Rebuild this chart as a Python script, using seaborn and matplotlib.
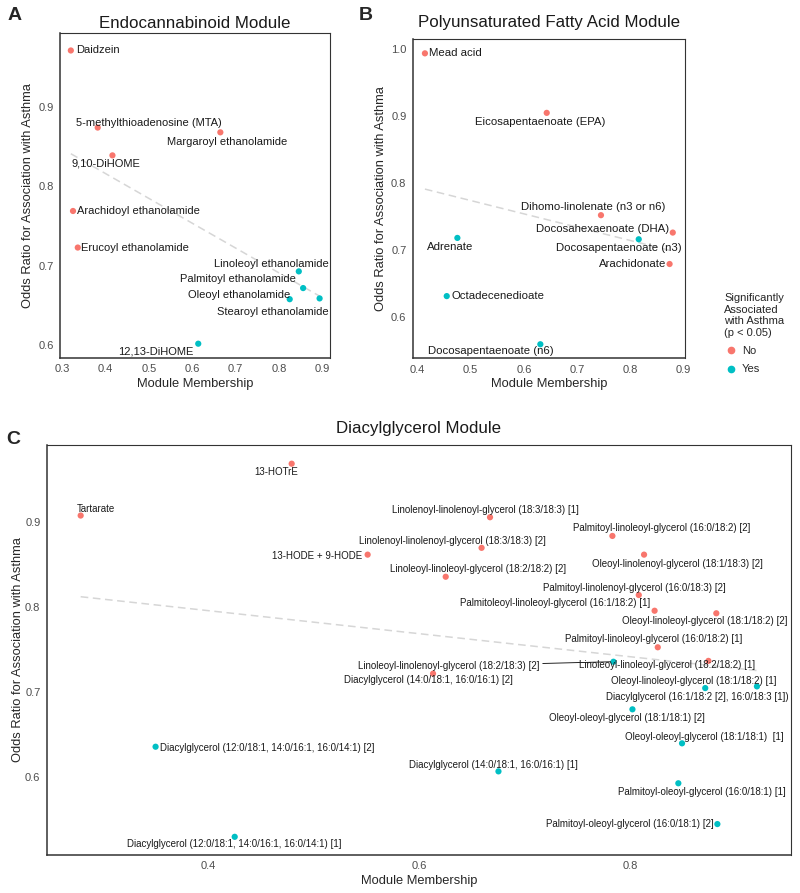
import matplotlib.pyplot as plt
import pandas as pd
import seaborn as sns
from matplotlib.lines import Line2D

NO_COLOR = "#F8766D"
YES_COLOR = "#00BFC4"
PALETTE = {"No": NO_COLOR, "Yes": YES_COLOR}
PX = 0.72  # points per pixel at dpi 100
FIG_W, FIG_H = 800, 893

# Panel A - Endocannabinoid module
endo_names = [
    "Daidzein", "5-methylthioadenosine (MTA)", "Margaroyl ethanolamide", "9,10-DiHOME",
    "Arachidoyl ethanolamide", "Erucoyl ethanolamide", "Linoleoyl ethanolamide",
    "Palmitoyl ethanolamide", "Oleoyl ethanolamide", "Stearoyl ethanolamide", "12,13-DiHOME",
]
endo_membership = [0.320, 0.382, 0.665, 0.416, 0.325, 0.336, 0.846, 0.856, 0.825, 0.894, 0.614]
endo_odds = [0.971, 0.874, 0.868, 0.839, 0.769, 0.723, 0.693, 0.672, 0.658, 0.659, 0.602]
endo_significant = ["No", "No", "No", "No", "No", "No", "Yes", "Yes", "Yes", "Yes", "Yes"]

# Panel B - Polyunsaturated fatty acid module
pufa_names = [
    "Mead acid", "Eicosapentaenoate (EPA)", "Dihomo-linolenate (n3 or n6)", "Docosahexaenoate (DHA)",
    "Docosapentaenoate (n3)", "Arachidonate", "Adrenate", "Octadecenedioate", "Docosapentaenoate (n6)",
]
pufa_membership = [0.414, 0.643, 0.745, 0.880, 0.816, 0.874, 0.475, 0.455, 0.631]
pufa_odds = [0.994, 0.905, 0.752, 0.726, 0.716, 0.679, 0.718, 0.631, 0.559]
pufa_significant = ["No", "No", "No", "No", "Yes", "No", "Yes", "Yes", "Yes"]

# Panel C - Diacylglycerol module
dag_names = [
    "13-HOTrE", "Tartarate", "13-HODE + 9-HODE",
    "Linolenoyl-linolenoyl-glycerol (18:3/18:3) [1]",
    "Linolenoyl-linolenoyl-glycerol (18:3/18:3) [2]",
    "Linoleoyl-linoleoyl-glycerol (18:2/18:2) [2]",
    "Palmitoyl-linoleoyl-glycerol (16:0/18:2) [2]",
    "Oleoyl-linolenoyl-glycerol (18:1/18:3) [2]",
    "Palmitoyl-linolenoyl-glycerol (16:0/18:3) [2]",
    "Palmitoleoyl-linoleoyl-glycerol (16:1/18:2) [1]",
    "Oleoyl-linoleoyl-glycerol (18:1/18:2) [2]",
    "Palmitoyl-linoleoyl-glycerol (16:0/18:2) [1]",
    "Linoleoyl-linolenoyl-glycerol (18:2/18:3) [2]",
    "Diacylglycerol (14:0/18:1, 16:0/16:1) [2]",
    "Linoleoyl-linoleoyl-glycerol (18:2/18:2) [1]",
    "Oleoyl-linoleoyl-glycerol (18:1/18:2) [1]",
    "Diacylglycerol (16:1/18:2 [2], 16:0/18:3 [1])",
    "Oleoyl-oleoyl-glycerol (18:1/18:1) [2]",
    "Oleoyl-oleoyl-glycerol (18:1/18:1)  [1]",
    "Diacylglycerol (14:0/18:1, 16:0/16:1) [1]",
    "Palmitoyl-oleoyl-glycerol (16:0/18:1) [1]",
    "Palmitoyl-oleoyl-glycerol (16:0/18:1) [2]",
    "Diacylglycerol (12:0/18:1, 14:0/16:1, 16:0/14:1) [2]",
    "Diacylglycerol (12:0/18:1, 14:0/16:1, 16:0/14:1) [1]",
]
dag_membership = [
    0.479, 0.279, 0.551, 0.667, 0.659, 0.625, 0.783, 0.813, 0.808, 0.823, 0.8815, 0.826,
    0.784, 0.613, 0.874, 0.920, 0.871, 0.802, 0.849, 0.675, 0.8455, 0.8825, 0.350, 0.425,
]
dag_odds = [
    0.969, 0.908, 0.862, 0.906, 0.870, 0.836, 0.884, 0.862, 0.8145, 0.796, 0.793, 0.753,
    0.736, 0.722, 0.737, 0.707, 0.705, 0.680, 0.640, 0.607, 0.593, 0.545, 0.636, 0.530,
]
dag_significant = ["No"] * 12 + ["Yes", "No", "No"] + ["Yes"] * 9

# label placement: alignment, dx, dy in pixels (dy downwards)
label_offsets = {
    "Daidzein": ("left", 5, 0),
    "5-methylthioadenosine (MTA)": ("center", 51, -4.5),
    "Margaroyl ethanolamide": ("center", 7, 9.5),
    "9,10-DiHOME": ("center", -7, 8.5),
    "Arachidoyl ethanolamide": ("left", 3.5, 0),
    "Erucoyl ethanolamide": ("left", 3.5, 0.4),
    "Linoleoyl ethanolamide": ("right", 30, -7.7),
    "Palmitoyl ethanolamide": ("right", -7.7, -9.4),
    "Oleoyl ethanolamide": ("right", 0.7, -4),
    "Stearoyl ethanolamide": ("right", 9, 13.3),
    "12,13-DiHOME": ("right", -4.7, 7.7),
    "Mead acid": ("left", 3.6, 0),
    "Eicosapentaenoate (EPA)": ("center", -6.4, 9),
    "Dihomo-linolenate (n3 or n6)": ("center", -7.4, -7.7),
    "Docosahexaenoate (DHA)": ("right", -3.4, -4),
    "Docosapentaenoate (n3)": ("right", 43, 8.4),
    "Arachidonate": ("right", -3.3, 0),
    "Adrenate": ("center", -7, 9),
    "Octadecenedioate": ("left", 4.3, 0),
    "Docosapentaenoate (n6)": ("right", 13.3, 7),
    "13-HOTrE": ("center", -15, 8.4),
    "Tartarate": ("center", 15, -7),
    "13-HODE + 9-HODE": ("right", -5.3, 1.3),
    "Linolenoyl-linolenoyl-glycerol (18:3/18:3) [1]": ("right", 89.3, -7.3),
    "Linolenoyl-linolenoyl-glycerol (18:3/18:3) [2]": ("right", 64.3, -7.3),
    "Linoleoyl-linoleoyl-glycerol (18:2/18:2) [2]": ("right", 120.7, -7.4),
    "Palmitoyl-linoleoyl-glycerol (16:0/18:2) [2]": ("right", 138.4, -7.7),
    "Oleoyl-linolenoyl-glycerol (18:1/18:3) [2]": ("right", 119, 9),
    "Palmitoyl-linolenoyl-glycerol (16:0/18:3) [2]": ("right", 87.3, -7.3),
    "Palmitoleoyl-linoleoyl-glycerol (16:1/18:2) [1]": ("right", -4, -8),
    "Oleoyl-linoleoyl-glycerol (18:1/18:2) [2]": ("right", 71, 7.4),
    "Palmitoyl-linoleoyl-glycerol (16:0/18:2) [1]": ("right", 84.4, -8),
    "Linoleoyl-linolenoyl-glycerol (18:2/18:3) [2]": ("right", -74, 4),
    "Diacylglycerol (14:0/18:1, 16:0/16:1) [2]": ("right", 79.4, 6.7),
    "Linoleoyl-linoleoyl-glycerol (18:2/18:2) [1]": ("right", 46.7, 4.3),
    "Oleoyl-linoleoyl-glycerol (18:1/18:2) [1]": ("right", 20, -5),
    "Diacylglycerol (16:1/18:2 [2], 16:0/18:3 [1])": ("right", 83.3, 9),
    "Oleoyl-oleoyl-glycerol (18:1/18:1) [2]": ("right", 72.3, 9),
    "Oleoyl-oleoyl-glycerol (18:1/18:1)  [1]": ("right", 101.6, -6.6),
    "Diacylglycerol (14:0/18:1, 16:0/16:1) [1]": ("right", 79, -6.7),
    "Palmitoyl-oleoyl-glycerol (16:0/18:1) [1]": ("right", 107.4, 8.4),
    "Palmitoyl-oleoyl-glycerol (16:0/18:1) [2]": ("right", -4, 0),
    "Diacylglycerol (12:0/18:1, 14:0/16:1, 16:0/14:1) [2]": ("left", 4.3, 1.6),
    "Diacylglycerol (12:0/18:1, 14:0/16:1, 16:0/14:1) [1]": ("right", 106.7, 7.3),
}
segment_labels = {"Linoleoyl-linolenoyl-glycerol (18:2/18:3) [2]"}


def px_rect(left, top, right, bottom):
    return [left / FIG_W, 1 - bottom / FIG_H, (right - left) / FIG_W, (bottom - top) / FIG_H]


def draw_panel(ax, names, membership, odds, significant, label_size, xlim, ylim, xticks, yticks, ylabelpad=3):
    df = pd.DataFrame({"name": names, "membership": membership, "odds": odds, "significant": significant})
    sns.regplot(
        data=df, x="membership", y="odds", ax=ax, scatter=False, ci=None,
        line_kws={"color": "#D6D6D6", "linestyle": (0, (5, 3)), "linewidth": 1.1, "zorder": 1},
    )
    sns.scatterplot(
        data=df, x="membership", y="odds", hue="significant", palette=PALETTE,
        s=20, linewidth=0, legend=False, ax=ax, zorder=3,
    )
    for _, row in df.iterrows():
        ha, dx, dy = label_offsets[row["name"]]
        arrow = None
        if row["name"] in segment_labels:
            arrow = {"arrowstyle": "-", "color": "black", "linewidth": 0.6, "shrinkA": 0, "shrinkB": 2}
        ax.annotate(
            row["name"], (row["membership"], row["odds"]), xytext=(dx * PX, -dy * PX),
            textcoords="offset points", ha=ha, va="center", fontsize=label_size,
            color="#1A1A1A", arrowprops=arrow, zorder=4,
        )
    ax.set_xlim(*xlim)
    ax.set_ylim(*ylim)
    ax.set_xticks(xticks)
    ax.set_yticks(yticks)
    ax.set_xticklabels([f"{t:g}" for t in xticks])
    ax.set_yticklabels([f"{t:.1f}" for t in yticks])
    ax.set_xlabel("Module Membership", fontsize=9.3, labelpad=2.5)
    ax.set_ylabel("Odds Ratio for Association with Asthma", fontsize=9.3, labelpad=ylabelpad)
    ax.tick_params(length=3, width=0.6, color="#333333", labelcolor="#4D4D4D", labelsize=8, pad=1.5)
    for side, spine in ax.spines.items():
        spine.set_visible(True)
        spine.set_color("#333333")
        spine.set_linewidth(1.1 if side in ("left", "bottom") else 0.8)


sns.set_theme(style="white")
plt.rcParams["font.family"] = ["Liberation Sans", "DejaVu Sans"]

fig = plt.figure(figsize=(FIG_W / 100, FIG_H / 100), dpi=100)

ax_a = fig.add_axes(px_rect(60, 33, 330, 358))
draw_panel(ax_a, endo_names, endo_membership, endo_odds, endo_significant, 8.0,
           (0.295, 0.918), (0.584, 0.993), [0.3, 0.4, 0.5, 0.6, 0.7, 0.8, 0.9], [0.6, 0.7, 0.8, 0.9])

ax_b = fig.add_axes(px_rect(412.7, 39.3, 685, 358.3))
draw_panel(ax_b, pufa_names, pufa_membership, pufa_odds, pufa_significant, 8.2,
           (0.391, 0.903), (0.538, 1.015), [0.4, 0.5, 0.6, 0.7, 0.8, 0.9], [0.6, 0.7, 0.8, 0.9, 1.0])

ax_c = fig.add_axes(px_rect(46.7, 445, 790.7, 855))
draw_panel(ax_c, dag_names, dag_membership, dag_odds, dag_significant, 7.0,
           (0.2468, 0.952), (0.5086, 0.991), [0.4, 0.6, 0.8], [0.6, 0.7, 0.8, 0.9], ylabelpad=0.5)

# titles and panel letters
for text, x, y in [("Endocannabinoid Module", 195, 24), ("Polyunsaturated Fatty Acid Module", 549, 23),
                   ("Diacylglycerol Module", 419, 428)]:
    fig.text(x / FIG_W, 1 - y / FIG_H, text, ha="center", va="center", fontsize=12.2, color="#1A1A1A")
for text, x, y in [("A", 15, 16), ("B", 366, 16), ("C", 13, 440)]:
    fig.text(x / FIG_W, 1 - y / FIG_H, text, ha="center", va="center", fontsize=14, fontweight="bold")

handles = [
    Line2D([], [], marker="o", linestyle="", color=NO_COLOR, markersize=4.5, label="No"),
    Line2D([], [], marker="o", linestyle="", color=YES_COLOR, markersize=4.5, label="Yes"),
]
legend = fig.legend(
    handles=handles, title="Significantly\nAssociated\nwith Asthma\n(p < 0.05)",
    loc="upper left", bbox_to_anchor=(714 / FIG_W, 1 - 283 / FIG_H), frameon=False,
    fontsize=8, title_fontsize=8, handletextpad=0.4, labelspacing=0.75, handlelength=1.2,
)
legend._legend_box.align = "left"

fig.savefig("out.png", dpi=100)
